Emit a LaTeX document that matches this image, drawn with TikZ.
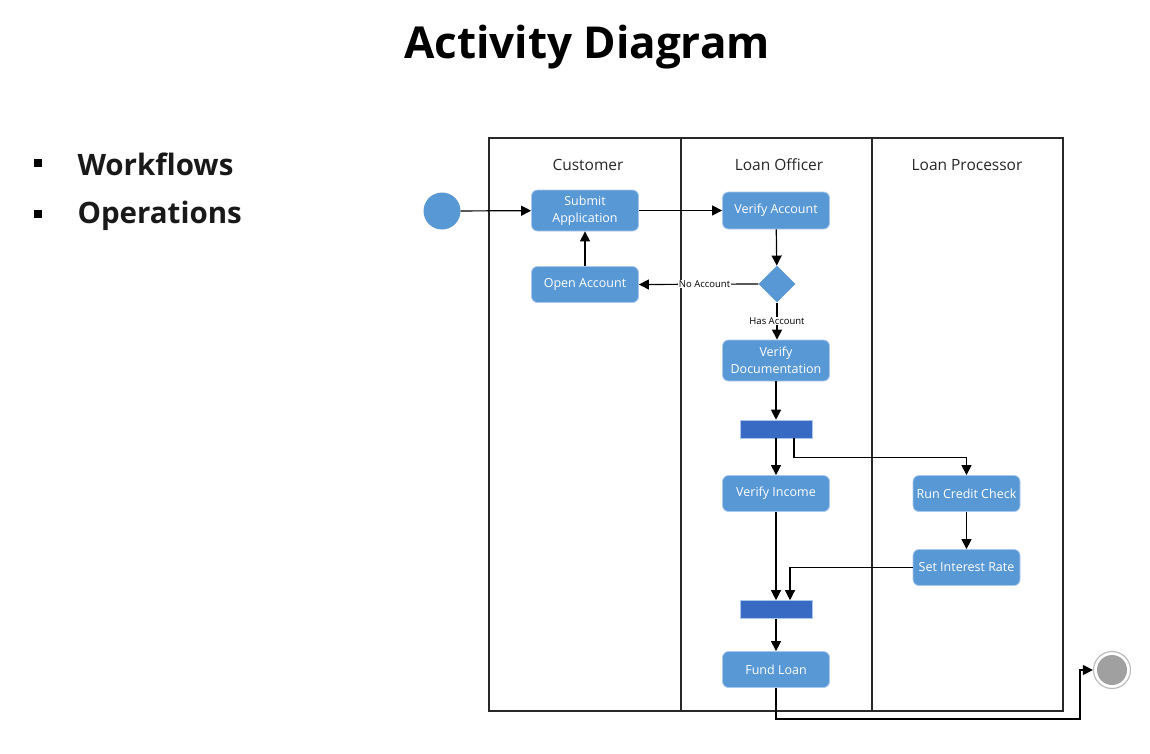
\documentclass[tikz,border=0pt]{standalone}
\usepackage{fontspec}
\setmainfont{Open Sans}
\usetikzlibrary{arrows.meta,shapes.geometric}
\definecolor{actblue}{RGB}{88,152,213}
\definecolor{actedge}{RGB}{170,200,235}
\definecolor{barblue}{RGB}{56,106,196}
\definecolor{finalgray}{RGB}{160,160,160}
\definecolor{lanegray}{RGB}{40,40,40}
\tikzset{
  act/.style={rectangle, rounded corners=6pt, fill=actblue, draw=actedge, line width=0.8pt,
    text=white, font=\fontsize{12.5}{16.5}\selectfont, align=center,
    minimum width=107pt, inner sep=1pt},
  barnode/.style={rectangle, fill=barblue, draw=actedge, line width=0.6pt, minimum width=72pt, minimum height=18pt, inner sep=0pt},
  flow/.style={draw=black, line width=1.2pt, -{Triangle[length=10pt,width=10pt]}},
  lbl/.style={fill=white, inner sep=0.5pt, font=\fontsize{9.5}{10}\selectfont, text=black},
  lanehead/.style={font=\fontsize{15.5}{17}\selectfont, text=black!85},
  bullettext/.style={font=\bfseries\fontsize{29.5}{32}\selectfont, anchor=west, text=black!90},
}
\begin{document}
\begin{tikzpicture}[x=1pt,y=-1pt]
\useasboundingbox (0,0) rectangle (1150,753);
% title
\node[font=\bfseries\fontsize{44}{48}\selectfont] (title) at (587,47) {Activity Diagram};
% bullets
\node[fill=black, minimum size=8pt, inner sep=0pt] (b1) at (38,163) {};
\node[bullettext] (t1) at (74,164) {Workflows};
\node[fill=black, minimum size=8pt, inner sep=0pt] (b2) at (38,214) {};
\node[bullettext] (t2) at (74,216) {Operations};
% swimlanes
\draw[lanegray, line width=1.2pt] (489,138) rectangle (1063,711);
\draw[lanegray, line width=1.2pt] (681,138) -- (681,711);
\draw[lanegray, line width=1.2pt] (872,138) -- (872,711);
\node[lanehead] (h1) at (588,165) {Customer};
\node[lanehead] (h2) at (779,165) {Loan Officer};
\node[lanehead] (h3) at (967,165) {Loan Processor};
% nodes
\node[circle, fill=actblue, minimum size=37pt, inner sep=0pt] (init) at (442,211) {};
\node[act, minimum height=41pt] (submit) at (585,210.5) {Submit\\Application};
\node[act, minimum height=37pt] (verify) at (776,210.5) {Verify Account};
\node[act, minimum height=36pt] (open) at (585,284.5) {Open Account};
\node[diamond, fill=actblue, minimum width=37pt, minimum height=37pt, inner sep=0pt] (dec) at (777,284) {};
\node[act, minimum height=41pt] (vdoc) at (776,360.5) {Verify\\Documentation};
\node[barnode] (fork) at (776,429) {};
\node[act, minimum height=36pt] (vinc) at (776,493.5) {Verify Income};
\node[act, minimum height=36pt] (rcc) at (966.5,493.5) {Run Credit Check};
\node[act, minimum height=36pt] (sir) at (966.5,567.5) {Set Interest Rate};
\node[barnode] (join) at (776,609.5) {};
\node[act, minimum height=36pt] (fund) at (776,669.5) {Fund Loan};
\node[circle, draw=finalgray!70, line width=1.2pt, fill=white, minimum size=37pt, inner sep=0pt] (final) at (1112,670) {};
\node[circle, fill=finalgray, minimum size=30pt, inner sep=0pt] (finalin) at (final.center) {};
% connectors
\draw[flow] (init) -- (submit);
\draw[flow] (submit) -- (verify);
\draw[flow] (verify) -- (dec);
\draw[flow] (dec.west) -- node[lbl, pos=0.45] {No Account} (open.east);
\draw[flow] (open) -- (submit);
\draw[flow] (dec.south) -- node[lbl, pos=0.5] {Has Account} (dec.south |- vdoc.north);
\draw[flow] (vdoc) -- (fork);
\draw[flow] (fork) -- (vinc);
\draw[flow] ([xshift=18pt]fork.south) -- ++(0,19) -| (rcc.north);
\draw[flow] (rcc) -- (sir);
\draw[flow] (sir.west) -| ([xshift=14pt]join.north);
\draw[flow] (vinc) -- (join);
\draw[flow] (join) -- (fund);
\coordinate (corner) at (1080,719);
\draw[flow] (fund.south) |- (corner) |- (final.west);
\end{tikzpicture}
\end{document}
